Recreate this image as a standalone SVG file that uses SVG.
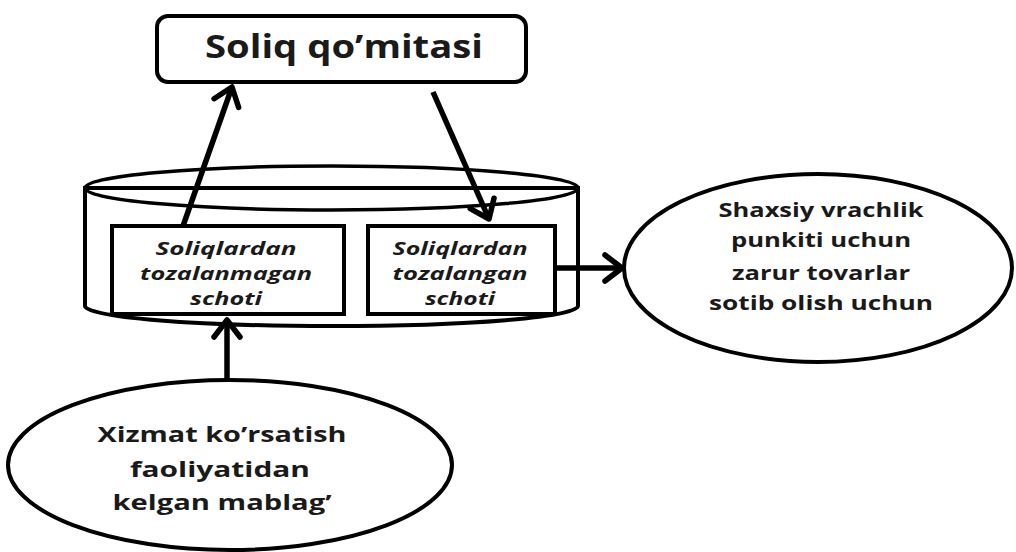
<svg xmlns="http://www.w3.org/2000/svg" width="1016" height="552" viewBox="0 0 1016 552">
  <defs>
    <style>
      .shape { fill: #fff; stroke: #000; stroke-width: 4; }
      .thin { fill: none; stroke: #000; stroke-width: 3.5; }
      .conn { fill: none; stroke: #000; stroke-width: 5.5; }
      .t { font-family: "Open Sans", "Liberation Sans", sans-serif; font-weight: bold; fill: #1a1a1a; text-anchor: middle; }
      .ti { font-family: "Open Sans", "Liberation Sans", sans-serif; font-weight: bold; font-style: italic; fill: #1a1a1a; text-anchor: middle; font-size: 18px; }
    </style>
    <marker id="arrow" markerUnits="userSpaceOnUse" markerWidth="44" markerHeight="44" viewBox="-22 -22 44 44" refX="0" refY="0" orient="auto">
      <path d="M-17,-13 L0,0 L-17,13" fill="none" stroke="#000" stroke-width="5.5" stroke-linecap="round" stroke-linejoin="round"/>
    </marker>
  </defs>
  <rect width="1016" height="552" fill="#fff"/>

  <!-- tax committee -->
  <g id="soliq-qomitasi">
    <rect class="shape" x="157" y="16" width="369" height="66" rx="11"/>
    <text class="t" x="344" y="58" font-size="32" textLength="278" lengthAdjust="spacingAndGlyphs">Soliq qo’mitasi</text>
  </g>

  <!-- account storage cylinder -->
  <g id="schotlar">
    <path class="shape" d="M85,188 L85,306 A246,20 0 0 0 578,306 L578,188 Z"/>
    <ellipse class="thin" cx="331.5" cy="188" rx="246.5" ry="22" fill="#fff"/>
  </g>

  <g id="tozalanmagan-schot">
    <rect class="shape" x="112" y="226" width="232" height="88"/>
    <text class="ti" x="226" y="255" textLength="141" lengthAdjust="spacingAndGlyphs">Soliqlardan</text>
    <text class="ti" x="226" y="280" textLength="172" lengthAdjust="spacingAndGlyphs">tozalanmagan</text>
    <text class="ti" x="226" y="305" textLength="72" lengthAdjust="spacingAndGlyphs">schoti</text>
  </g>

  <g id="tozalangan-schot">
    <rect class="shape" x="368" y="226" width="187" height="88"/>
    <text class="ti" x="460" y="255" textLength="135" lengthAdjust="spacingAndGlyphs">Soliqlardan</text>
    <text class="ti" x="460" y="280" textLength="135" lengthAdjust="spacingAndGlyphs">tozalangan</text>
    <text class="ti" x="460" y="305" textLength="70" lengthAdjust="spacingAndGlyphs">schoti</text>
  </g>

  <!-- purchases for the private clinic -->
  <g id="vrachlik-punkiti">
    <ellipse class="shape" cx="818" cy="268" rx="194" ry="94"/>
    <text class="t" x="821" y="217" font-size="20" textLength="205" lengthAdjust="spacingAndGlyphs">Shaxsiy vrachlik</text>
    <text class="t" x="821" y="247" font-size="20" textLength="180" lengthAdjust="spacingAndGlyphs">punkiti uchun</text>
    <text class="t" x="821" y="280" font-size="20" textLength="178" lengthAdjust="spacingAndGlyphs">zarur tovarlar</text>
    <text class="t" x="821" y="310" font-size="20" textLength="224" lengthAdjust="spacingAndGlyphs">sotib olish uchun</text>
  </g>

  <!-- income from services -->
  <g id="xizmat-mablag">
    <ellipse class="shape" cx="230" cy="465" rx="222" ry="85"/>
    <text class="t" x="222" y="442" font-size="22" textLength="249" lengthAdjust="spacingAndGlyphs">Xizmat ko’rsatish</text>
    <text class="t" x="220" y="477" font-size="22" textLength="180" lengthAdjust="spacingAndGlyphs">faoliyatidan</text>
    <text class="t" x="222" y="510" font-size="22" textLength="219" lengthAdjust="spacingAndGlyphs">kelgan mablag’</text>
  </g>

  <g id="connectors">
    <line class="conn" x1="183" y1="226" x2="232" y2="87" marker-end="url(#arrow)"/>
    <line class="conn" x1="433" y1="92" x2="489" y2="219" marker-end="url(#arrow)"/>
    <line class="conn" x1="555" y1="268" x2="622" y2="268" marker-end="url(#arrow)"/>
    <line class="conn" x1="227" y1="380" x2="227" y2="320" marker-end="url(#arrow)"/>
  </g>
</svg>
